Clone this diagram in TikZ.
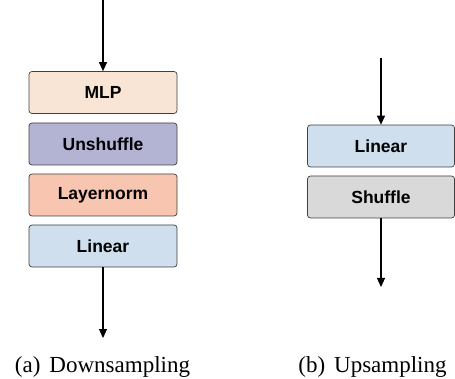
\documentclass[tikz,border=0pt]{standalone}
\usepackage{fontspec}
\setmainfont{Liberation Serif}
\newfontfamily\boxfont{Liberation Sans}
\usepackage{tikz}
\usetikzlibrary{shapes, arrows.meta}
\definecolor{mlpc}{HTML}{F8E5D6}
\definecolor{unshc}{HTML}{B3B3D4}
\definecolor{normc}{HTML}{F8C5B0}
\definecolor{linc}{HTML}{CFDFEE}
\definecolor{shufc}{HTML}{D9D9D9}
\tikzstyle{mlp} = [rectangle, draw = black!75, fill = mlpc, line width = 0.7pt, minimum width = 148pt, minimum height = 42pt, inner sep = 0pt, text centered, rounded corners = 3pt, font = \boxfont\bfseries\fontsize{17.5}{20}\selectfont]
\tikzstyle{unsh} = [rectangle, draw = black!75, fill = unshc, line width = 0.7pt, minimum width = 148pt, minimum height = 42pt, inner sep = 0pt, text centered, rounded corners = 3pt, font = \boxfont\bfseries\fontsize{17.5}{20}\selectfont]
\tikzstyle{norm} = [rectangle, draw = black!75, fill = normc, line width = 0.7pt, minimum width = 148pt, minimum height = 42pt, inner sep = 0pt, text centered, rounded corners = 3pt, font = \boxfont\bfseries\fontsize{17.5}{20}\selectfont]
\tikzstyle{lin} = [rectangle, draw = black!75, fill = linc, line width = 0.7pt, minimum width = 148pt, minimum height = 42pt, inner sep = 0pt, text centered, rounded corners = 3pt, font = \boxfont\bfseries\fontsize{17.5}{20}\selectfont]
\tikzstyle{shuf} = [rectangle, draw = black!75, fill = shufc, line width = 0.7pt, minimum width = 147pt, minimum height = 42pt, inner sep = 0pt, text centered, rounded corners = 3pt, font = \boxfont\bfseries\fontsize{17.5}{20}\selectfont]
\tikzstyle{subcap} = [anchor = base, inner sep = 0pt, font = \fontsize{23}{26}\selectfont]
\tikzstyle{arrow} = [draw, -{Triangle[width = 8pt, length = 9pt]}, line width = 1.1pt]

\begin{document}
\begin{tikzpicture}[x = 1pt, y = -1pt]
            \useasboundingbox (0, 0) rectangle (455, 379);
            % downsampling
            \coordinate (din) at (103, 0);
            \node[mlp] (d1) at (103, 92.5) {MLP};
            \node[unsh] (d2) at (103, 144) {Unshuffle};
            \node[norm] (d3) at (103, 195) {Layernorm};
            \node[lin] (d4) at (103, 246) {Linear};
            \coordinate (dout) at (103, 338);
            \node[subcap] (dc) at (102.5, 372) {(a)\kern 9pt Downsampling};
            % upsampling
            \coordinate (uin) at (381, 58);
            \node[lin, minimum width = 147pt] (u1) at (381, 146) {Linear};
            \node[shuf] (u2) at (381, 197) {Shuffle};
            \coordinate (uout) at (381, 287);
            \node[subcap] (uc) at (372.5, 372) {(b)\kern 9pt Upsampling};

            \path[arrow] (din) -- (d1);
            \path[arrow] (d4) -- (dout);
            \path[arrow] (uin) -- (u1);
            \path[arrow] (u2) -- (uout);
        \end{tikzpicture}
\end{document}
